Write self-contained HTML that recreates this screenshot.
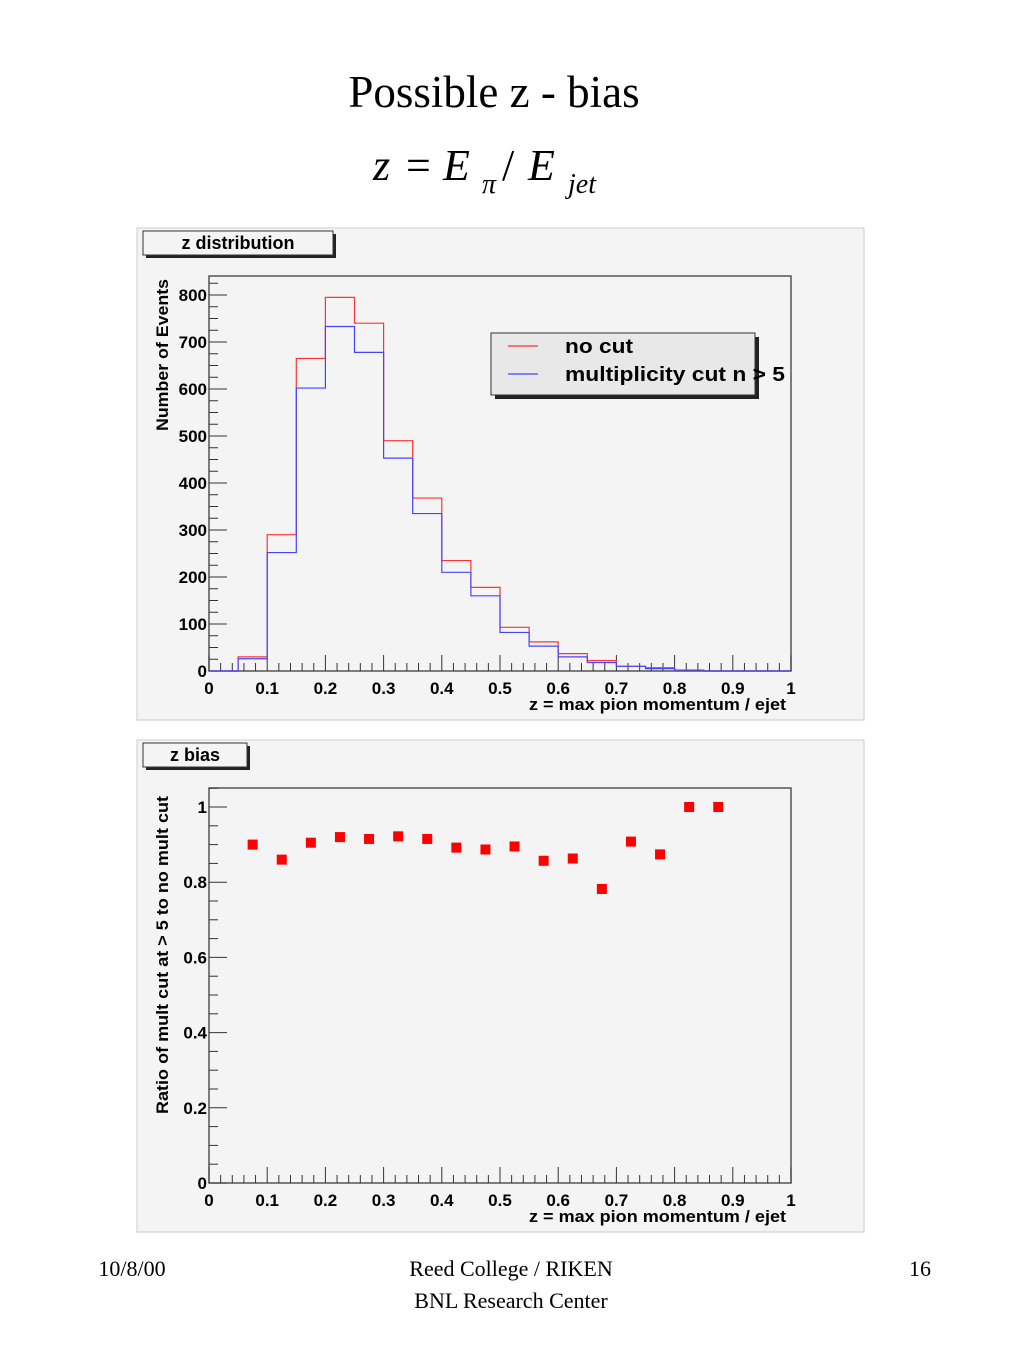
<!DOCTYPE html>
<html><head><meta charset="utf-8"><style>
body{margin:0;background:#fff;width:1024px;height:1365px;overflow:hidden;font-family:"Liberation Sans",sans-serif}
svg{position:absolute;left:0;top:0}
.serif{font-family:"Liberation Serif",serif}
.ax{font-family:"Liberation Sans",sans-serif;font-weight:bold}
</style></head><body>
<svg id="s" width="1024" height="1365">
<text class="serif" x="494" y="107" font-size="45" text-anchor="middle">Possible z - bias</text>
<g class="serif" font-style="italic">
<text x="373" y="180" font-size="44">z</text>
<text x="406" y="180" font-size="44" font-style="normal">=</text>
<text x="443" y="180" font-size="44">E</text>
<text x="482" y="193" font-size="28">π</text>
<text x="502" y="180" font-size="44" font-style="normal">/</text>
<text x="528" y="180" font-size="44">E</text>
<text x="568" y="193" font-size="28">jet</text>
</g>
<rect x="137" y="228" width="727" height="492" fill="#f4f4f4" stroke="#ccc"/>
<rect x="137" y="740" width="727" height="492" fill="#f4f4f4" stroke="#ccc"/>
<g id="top"></g>
<g id="bot"></g>
<text class="serif" x="132" y="1276" font-size="22" text-anchor="middle">10/8/00</text>
<text class="serif" x="511" y="1276" font-size="22" text-anchor="middle">Reed College / RIKEN</text>
<text class="serif" x="511" y="1308" font-size="22" text-anchor="middle">BNL Research Center</text>
<text class="serif" x="920" y="1276" font-size="22" text-anchor="middle">16</text>
</svg>
<script>
const binEdges=[0,0.05,0.1,0.15,0.2,0.25,0.3,0.35,0.4,0.45,0.5,0.55,0.6,0.65,0.7,0.75,0.8,0.85,0.9,0.95,1];
const noCut=[0,30,290,665,795,740,490,368,235,178,93,62,37,22,10,7,2,0,0,0];
const multCut=[0,26,252,602,733,678,453,335,210,160,82,53,30,18,10,5,2,0,0,0];
const ratioX=[0.075,0.125,0.175,0.225,0.275,0.325,0.375,0.425,0.475,0.525,0.575,0.625,0.675,0.725,0.775,0.825,0.875];
const ratioY=[0.9,0.86,0.905,0.92,0.915,0.922,0.915,0.892,0.887,0.895,0.857,0.863,0.782,0.908,0.874,1,1];
const topYTicks=[0,100,200,300,400,500,600,700,800];
const botYTicks=[0,0.2,0.4,0.6,0.8,1];
const xTicks=[0,0.1,0.2,0.3,0.4,0.5,0.6,0.7,0.8,0.9,1];
const NS='http://www.w3.org/2000/svg';
function mk(p,t,a){const e=document.createElementNS(NS,t);for(const k in a)e.setAttribute(k,a[k]);p.appendChild(e);return e;}
const X0=209,X1=791;
const xs=v=>X0+(X1-X0)*v;
function frame(g,top,bot,yMax,yTicks,yMinorStep,yfun,title,titleW,tY,ylabel){
  const r=mk(g,'rect',{x:X0,y:top,width:X1-X0,height:bot-top,fill:'none',stroke:'#555','stroke-width':1.5});
  
  const tb=mk(g,'rect',{x:146,y:tY+3,width:titleW,height:24,fill:'#222'});
  
  const tb2=mk(g,'rect',{x:143,y:tY,width:titleW,height:24,fill:'#f4f4f4',stroke:'#333'});
  
  const tt=mk(g,'text',{x:143+titleW/2,y:tY+18,'text-anchor':'middle',class:'ax',style:'font-size:18px'});
  tt.textContent=title;
  for(let i=0;i<=50;i++){const v=i/50;const big=i%5==0;
    const l=mk(g,'line',{x1:xs(v),x2:xs(v),y1:bot,y2:bot-(big?16:8),stroke:'#333'});
    }
  xTicks.forEach(v=>{const t=mk(g,'text',{x:xs(v),y:bot+23,'text-anchor':'middle',class:'ax',style:'font-size:17px'});t.textContent=String(v);
    });
  const xl=mk(g,'text',{x:786,y:bot+39,'text-anchor':'end',class:'ax',style:'font-size:17px',textLength:257,lengthAdjust:'spacingAndGlyphs'});xl.textContent='z = max pion momentum / ejet';
  
  for(let v=0;v<=yMax+1e-9;v+=yMinorStep){const big=yTicks.some(t=>Math.abs(t-v)<1e-6);
    const l=mk(g,'line',{x1:X0,x2:X0+(big?18:9),y1:yfun(v),y2:yfun(v),stroke:'#333'});
    }
  yTicks.forEach(v=>{const t=mk(g,'text',{x:X0-2,y:yfun(v)+6,'text-anchor':'end',class:'ax',style:'font-size:17px'});t.textContent=String(v);
    });
  const yl=mk(g,'text',{x:0,y:0,'text-anchor':'middle',class:'ax',style:'font-size:17px',transform:`translate(168,${ylabel[1]}) rotate(-90)`,textLength:ylabel[2],lengthAdjust:'spacingAndGlyphs'});yl.textContent=ylabel[0];
  
}
const gt=document.getElementById('top');
const yT=v=>671-v*(671-295)/800;
frame(gt,276,671,840,topYTicks,25,yT,'z distribution',190,231,['Number of Events',355,152]);
function hist(vals,color,name){let d=`M${xs(0)},${yT(0)}`;
  vals.forEach((v,i)=>{d+=` L${xs(binEdges[i])},${yT(v)} L${xs(binEdges[i+1])},${yT(v)}`;});
  d+=` L${xs(1)},${yT(0)}`;
  const p=mk(gt,'path',{d:d,fill:'none',stroke:color,'stroke-width':1.2});
  }
hist(noCut,'#f33','histogram-no-cut');hist(multCut,'#44f','histogram-multiplicity-cut');
const ls=mk(gt,'rect',{x:495,y:337,width:264,height:62,fill:'#222'});

const lb=mk(gt,'rect',{x:491,y:333,width:264,height:62,fill:'#e8e8e8',stroke:'#333'});

[['no cut','#f33',346,68],['multiplicity cut n > 5','#44f',374,220]].forEach(([t,c,y,w])=>{
  const l=mk(gt,'line',{x1:508,x2:538,y1:y,y2:y,stroke:c,'stroke-width':1.2});
  
  const tx=mk(gt,'text',{x:565,y:y+7,class:'ax',style:'font-size:20px',textLength:w,lengthAdjust:'spacingAndGlyphs'});tx.textContent=t;
  });
const gb=document.getElementById('bot');
const yB=v=>1183-v*(1183-807);
frame(gb,788,1183,1.05,botYTicks,0.05,yB,'z bias',104,743,['Ratio of mult cut at > 5 to no mult cut',955,318]);
ratioX.forEach((x,i)=>{const r=mk(gb,'rect',{x:xs(x)-5,y:yB(ratioY[i])-5,width:10,height:10,fill:'#f00'});
  });
</script>
</body></html>
